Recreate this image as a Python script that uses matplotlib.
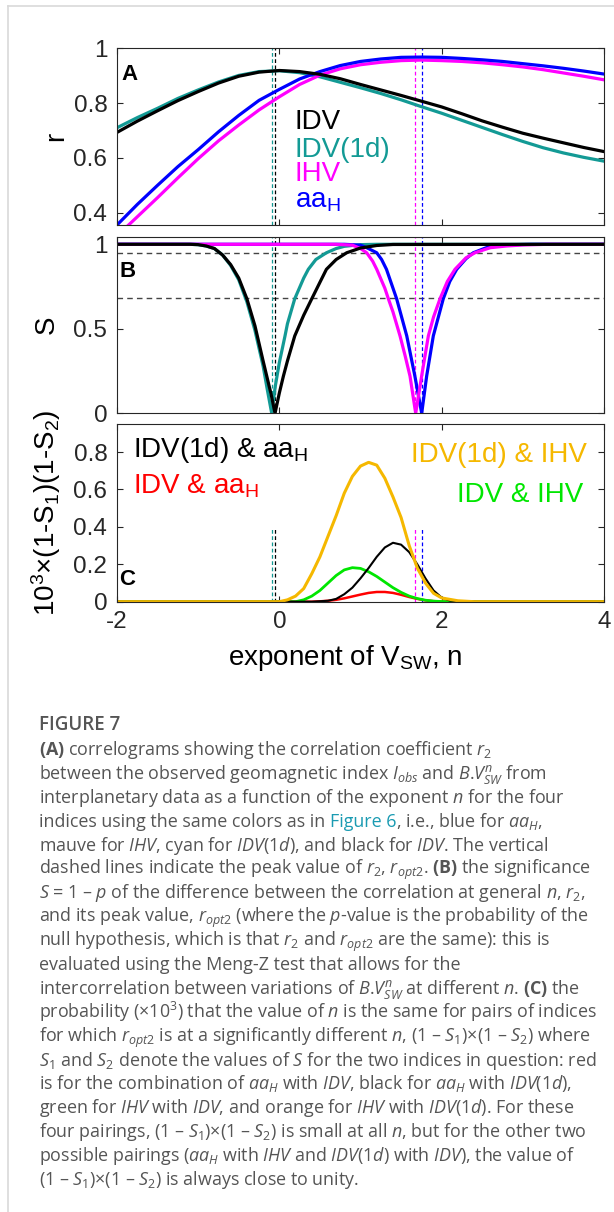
import matplotlib.pyplot as plt
from matplotlib.lines import Line2D

CAP_FONT = 'Open Sans'
plt.rcParams['font.family'] = 'Liberation Sans'
plt.rcParams['mathtext.fontset'] = 'custom'
plt.rcParams['mathtext.rm'] = CAP_FONT
plt.rcParams['mathtext.it'] = CAP_FONT + ':italic'
plt.rcParams['mathtext.bf'] = CAP_FONT + ':bold'

# ---- panel A: correlation r vs exponent n ----
n_A = [-2.0, -1.75, -1.5, -1.25, -1.0, -0.75, -0.5, -0.25, 0.0, 0.25, 0.5, 0.75, 1.0,
       1.25, 1.5, 1.75, 2.0, 2.25, 2.5, 2.75, 3.0, 3.25, 3.5, 3.75, 4.0]
r_IDV = [0.693, 0.734, 0.772, 0.809, 0.842, 0.873, 0.898, 0.913, 0.919, 0.915, 0.905, 0.889, 0.868,
         0.848, 0.828, 0.807, 0.786, 0.761, 0.735, 0.712, 0.690, 0.672, 0.655, 0.638, 0.623]
r_IDV1d = [0.710, 0.747, 0.781, 0.817, 0.848, 0.877, 0.901, 0.915, 0.918, 0.911, 0.896, 0.876, 0.856,
           0.835, 0.812, 0.787, 0.763, 0.737, 0.711, 0.685, 0.660, 0.637, 0.618, 0.602, 0.588]
r_IHV = [0.315, 0.385, 0.455, 0.527, 0.597, 0.662, 0.720, 0.775, 0.823, 0.868, 0.902, 0.925, 0.940,
         0.949, 0.955, 0.957, 0.955, 0.952, 0.947, 0.940, 0.932, 0.922, 0.910, 0.898, 0.885]
r_aaH = [0.355, 0.430, 0.500, 0.568, 0.630, 0.695, 0.755, 0.810, 0.850, 0.888, 0.915, 0.937, 0.952,
         0.961, 0.967, 0.968, 0.967, 0.963, 0.958, 0.952, 0.944, 0.936, 0.927, 0.917, 0.906]

# ---- panel B: significance S ----
n_S_IDV = [-2.0, -1.1, -1.0, -0.9, -0.8, -0.7, -0.6, -0.5, -0.4, -0.3, -0.2, -0.1, -0.053, 0.0,
           0.05, 0.1, 0.19, 0.3, 0.4, 0.5, 0.58, 0.7, 0.83, 1.0, 1.2, 1.4, 4.0]
S_IDV = [1.0, 1.0, 0.998, 0.99, 0.975, 0.937, 0.88, 0.80, 0.678, 0.517, 0.31, 0.11, 0.0, 0.12,
         0.22, 0.31, 0.458, 0.58, 0.678, 0.775, 0.852, 0.91, 0.95, 0.978, 0.993, 0.999, 1.0]
n_S_IDV1d = [-2.0, -1.1, -1.0, -0.9, -0.8, -0.7, -0.6, -0.5, -0.4, -0.3, -0.2, -0.15, -0.094, -0.05,
             0.0, 0.07, 0.1, 0.19, 0.3, 0.357, 0.45, 0.58, 0.7, 0.8, 1.0, 1.2, 4.0]
S_IDV1d = [1.0, 1.0, 0.998, 0.99, 0.975, 0.937, 0.875, 0.79, 0.66, 0.49, 0.28, 0.145, 0.0, 0.16,
           0.30, 0.458, 0.53, 0.678, 0.80, 0.852, 0.91, 0.95, 0.975, 0.988, 0.998, 1.0, 1.0]
n_S_IHV = [-2.0, 0.7, 0.9, 1.0, 1.076, 1.15, 1.2, 1.3, 1.343, 1.4, 1.487, 1.55, 1.61, 1.68, 1.753,
           1.836, 1.9, 1.98, 2.07, 2.164, 2.3, 2.41, 2.6, 2.8, 3.0, 3.3, 4.0]
S_IHV = [1.0, 1.0, 0.995, 0.975, 0.95, 0.90, 0.852, 0.74, 0.678, 0.60, 0.458, 0.34, 0.22, 0.0, 0.22,
         0.458, 0.57, 0.678, 0.78, 0.852, 0.92, 0.95, 0.98, 0.99, 0.996, 1.0, 1.0]
n_S_aaH = [-2.0, 0.8, 1.0, 1.076, 1.2, 1.26, 1.32, 1.445, 1.57, 1.67, 1.754, 1.815, 1.897, 2.02,
           2.1, 2.185, 2.3, 2.39, 2.55, 2.7, 2.9, 3.1, 4.0]
S_aaH = [1.0, 1.0, 0.995, 0.98, 0.95, 0.91, 0.852, 0.678, 0.458, 0.22, 0.0, 0.22, 0.458, 0.678,
         0.78, 0.852, 0.915, 0.95, 0.98, 0.992, 0.998, 1.0, 1.0]
S_levels = [0.95, 0.68]

# ---- panel C: 10^3 x (1-S1)(1-S2) ----
n_C_orange = [-2.0, 0.0, 0.1, 0.2, 0.3, 0.4, 0.5, 0.6, 0.7, 0.8, 0.9, 1.0, 1.1, 1.2, 1.3, 1.4,
              1.5, 1.6, 1.7, 1.8, 1.9, 2.0, 2.2, 2.4, 4.0]
P_IDV1d_IHV = [0, 0, 0.01, 0.03, 0.07, 0.15, 0.24, 0.35, 0.46, 0.58, 0.67, 0.725, 0.745, 0.73, 0.66,
               0.56, 0.45, 0.30, 0.18, 0.10, 0.045, 0.02, 0.005, 0, 0]
n_C_black = [-2.0, 0.4, 0.6, 0.7, 0.8, 0.9, 1.0, 1.1, 1.2, 1.3, 1.4, 1.5, 1.6, 1.7, 1.8, 1.9,
             2.0, 2.1, 2.3, 4.0]
P_IDV1d_aaH = [0, 0, 0.005, 0.015, 0.04, 0.075, 0.125, 0.18, 0.24, 0.29, 0.315, 0.305, 0.265, 0.2,
               0.125, 0.06, 0.022, 0.006, 0, 0]
n_C_green = [-2.0, 0.2, 0.3, 0.4, 0.5, 0.6, 0.7, 0.8, 0.9, 1.0, 1.1, 1.2, 1.3, 1.4, 1.5, 1.6, 1.7,
             1.8, 1.9, 2.0, 2.2, 4.0]
P_IDV_IHV = [0, 0, 0.01, 0.03, 0.06, 0.10, 0.14, 0.17, 0.182, 0.178, 0.16, 0.135, 0.105, 0.075,
             0.05, 0.03, 0.017, 0.008, 0.003, 0.001, 0, 0]
n_C_red = [-2.0, 0.4, 0.5, 0.6, 0.7, 0.8, 0.9, 1.0, 1.1, 1.2, 1.3, 1.4, 1.5, 1.6, 1.7, 1.8, 1.9,
           2.0, 4.0]
P_IDV_aaH = [0, 0, 0.002, 0.005, 0.01, 0.018, 0.028, 0.038, 0.047, 0.052, 0.052, 0.047, 0.037,
             0.025, 0.015, 0.007, 0.003, 0, 0]

# peak positions (r_opt2) of each index
peak_IDV1d, peak_IDV, peak_IHV, peak_aaH = -0.094, -0.053, 1.67, 1.754
peak_mark_top_C = 0.4

x_ticks = [-2, 0, 2, 4]
yticks_A = [0.4, 0.6, 0.8, 1.0]
yticks_B = [0, 0.5, 1.0]
yticks_C = [0, 0.2, 0.4, 0.6, 0.8]

BLACK = 'black'
TEAL = '#139a95'
MAGENTA = '#ff00ff'
BLUE = '#0000ff'
ORANGE = '#f5b800'
GREEN = '#00e600'
RED = '#ff0000'
AX_COL = '#262626'

W, H = 614, 1212
fig = plt.figure(figsize=(W / 100, H / 100), dpi=100)


def px_axes(left, top, right, bottom):
    return fig.add_axes([left / W, 1 - bottom / H, (right - left) / W, (bottom - top) / H])


def fmt(v):
    return '%g' % v


axA = px_axes(117, 48.3, 604, 225)
axB = px_axes(117, 236.7, 604, 413.3)
axC = px_axes(117, 424, 604, 601.7)

for ax, yt in ((axA, yticks_A), (axB, yticks_B), (axC, yticks_C)):
    ax.set_xlim(-2, 4)
    ax.set_xticks(x_ticks)
    ax.set_yticks(yt)
    ax.set_yticklabels([fmt(v) for v in yt])
    ax.tick_params(direction='in', top=True, right=True, length=4.5, width=0.8,
                   labelsize=17.5, pad=7, color=AX_COL, labelcolor=AX_COL)
    for s in ax.spines.values():
        s.set_color(AX_COL)
        s.set_linewidth(0.8)
axA.set_xticklabels([])
axB.set_xticklabels([])
axC.set_xticklabels([fmt(v) for v in x_ticks])

axA.set_ylim(0.355, 1.0)
axB.set_ylim(0, 1.045)
axC.set_ylim(0, 0.95)

peaks = ((peak_IDV1d, TEAL), (peak_IDV, BLACK), (peak_IHV, MAGENTA), (peak_aaH, BLUE))

# panel A
lw = 2.3
axA.plot(n_A, r_IDV1d, color=TEAL, lw=lw)
axA.plot(n_A, r_IHV, color=MAGENTA, lw=lw)
axA.plot(n_A, r_aaH, color=BLUE, lw=lw)
axA.plot(n_A, r_IDV, color=BLACK, lw=lw)
for p, c in peaks:
    axA.axvline(p, color=c, lw=0.9, ls=(0, (3, 2)), zorder=1)
axA.set_ylabel('r', fontsize=20)
axA.yaxis.set_label_coords(-0.098, 0.5)
axA.text(-1.95, 0.885, 'A', fontsize=16, fontweight='bold')
legA_x = 0.192
axA.text(legA_x, 0.707, 'IDV', color=BLACK, fontsize=20)
axA.text(legA_x, 0.605, 'IDV(1d)', color=TEAL, fontsize=20)
axA.text(legA_x, 0.516, 'IHV', color=MAGENTA, fontsize=20)
axA.text(legA_x, 0.420, r'aa$_{\mathregular{H}}$', color=BLUE, fontsize=20)

# panel B
for lev in S_levels:
    axB.axhline(lev, color='#444444', lw=1.0, ls=(0, (4, 3)), zorder=1)
for p, c in peaks:
    axB.axvline(p, color=c, lw=0.9, ls=(0, (3, 2)), zorder=1)
axB.plot(n_S_IDV1d, S_IDV1d, color=TEAL, lw=lw)
axB.plot(n_S_aaH, S_aaH, color=BLUE, lw=lw)
axB.plot(n_S_IHV, S_IHV, color=MAGENTA, lw=lw)
axB.plot(n_S_IDV, S_IDV, color=BLACK, lw=lw)
axB.set_ylabel('S', fontsize=20)
axB.yaxis.set_label_coords(-0.117, 0.5)
axB.text(-1.97, 0.808, 'B', fontsize=16, fontweight='bold')

# panel C
for p, c in peaks:
    axC.vlines(p, 0, peak_mark_top_C, color=c, lw=0.9, ls=(0, (3, 2)), zorder=1)
axC.plot(n_C_red, P_IDV_aaH, color=RED, lw=1.8)
axC.plot(n_C_green, P_IDV_IHV, color=GREEN, lw=2.0)
axC.plot(n_C_black, P_IDV1d_aaH, color=BLACK, lw=1.5)
axC.plot(n_C_orange, P_IDV1d_IHV, color=ORANGE, lw=2.2)
axC.set_ylabel(r'10$^{\mathregular{3}}$×(1-S$_{\mathregular{1}}$)(1-S$_{\mathregular{2}}$)', fontsize=20)
axC.yaxis.set_label_coords(-0.11, 0.5)
axC.set_xlabel(r'exponent of V$_{\mathregular{SW}}$, n', fontsize=20)
axC.xaxis.set_label_coords(0.468, -0.235)
axC.text(-1.97, 0.089, 'C', fontsize=16, fontweight='bold')
axC.text(-1.80, 0.772, r'IDV(1d) & aa$_{\mathregular{H}}$', color=BLACK, fontsize=20)
axC.text(-1.80, 0.576, r'IDV & aa$_{\mathregular{H}}$', color=RED, fontsize=20)
axC.text(3.79, 0.749, 'IDV(1d) & IHV', color=ORANGE, fontsize=20, ha='right')
axC.text(3.745, 0.535, 'IDV & IHV', color=GREEN, fontsize=20, ha='right')

# card border
fig.add_artist(Line2D([8 / W, 8 / W], [0, 1 - 5.5 / H], transform=fig.transFigure,
                      color='#d9d9d9', lw=1.2))
fig.add_artist(Line2D([8 / W, 1], [1 - 5.5 / H, 1 - 5.5 / H], transform=fig.transFigure,
                      color='#d9d9d9', lw=1.2))

# caption
CAP = '#555555'
LINK = '#1a9bb2'
cap_size = 12.9
cap_x = 39
caption = [
    [(r'$\mathbf{(A)}$ correlograms showing the correlation coefficient $r_2$', CAP)],
    [(r'between the observed geomagnetic index $I_{obs}$ and $B$.$V_{SW}^{n}$ from', CAP)],
    [(r'interplanetary data as a function of the exponent $n$ for the four', CAP)],
    [('indices using the same colors as in ', CAP), ('Figure 6', LINK),
     (r', i.e., blue for $aa_H$,', CAP)],
    [(r'mauve for $IHV$, cyan for $IDV$(1$d$), and black for $IDV$. The vertical', CAP)],
    [(r'dashed lines indicate the peak value of $r_2$, $r_{opt2}$. $\mathbf{(B)}$ the significance', CAP)],
    [(r'$S$ = 1 – $p$ of the difference between the correlation at general $n$, $r_2$,', CAP)],
    [(r'and its peak value, $r_{opt2}$ (where the $p$-value is the probability of the', CAP)],
    [(r'null hypothesis, which is that $r_2$ and $r_{opt2}$ are the same): this is', CAP)],
    [('evaluated using the Meng-Z test that allows for the', CAP)],
    [(r'intercorrelation between variations of $B$.$V_{SW}^{n}$ at different $n$. $\mathbf{(C)}$ the', CAP)],
    [(r'probability (×10$^3$) that the value of $n$ is the same for pairs of indices', CAP)],
    [(r'for which $r_{opt2}$ is at a significantly different $n$, (1 – $S_1$)×(1 – $S_2$) where', CAP)],
    [(r'$S_1$ and $S_2$ denote the values of $S$ for the two indices in question: red', CAP)],
    [(r'is for the combination of $aa_H$ with $IDV$, black for $aa_H$ with $IDV$(1$d$),', CAP)],
    [(r'green for $IHV$ with $IDV$, and orange for $IHV$ with $IDV$(1$d$). For these', CAP)],
    [(r'four pairings, (1 – $S_1$)×(1 – $S_2$) is small at all $n$, but for the other two', CAP)],
    [(r'possible pairings ($aa_H$ with $IHV$ and $IDV$(1$d$) with $IDV$), the value of', CAP)],
    [(r'(1 – $S_1$)×(1 – $S_2$) is always close to unity.', CAP)],
]

fig.text(cap_x / W, 1 - 730 / H, 'FIGURE 7', family=CAP_FONT, fontweight='semibold',
         fontsize=13.5, color=CAP, va='baseline')

renderer = fig.canvas.get_renderer()
probe1 = fig.text(0, 0, 'x x', family=CAP_FONT, fontsize=cap_size)
probe2 = fig.text(0, 0, 'xx', family=CAP_FONT, fontsize=cap_size)
space_w = probe1.get_window_extent(renderer).width - probe2.get_window_extent(renderer).width
probe1.remove()
probe2.remove()

for i, segs in enumerate(caption):
    y = 755 + 23.89 * i
    x = cap_x
    for txt, col in segs:
        t = fig.text(x / W, 1 - y / H, txt.strip(), family=CAP_FONT, fontsize=cap_size,
                     color=col, va='baseline', ha='left')
        x = t.get_window_extent(renderer).x1
        if txt.endswith(' '):
            x += space_w

fig.savefig('out.png', dpi=100)
